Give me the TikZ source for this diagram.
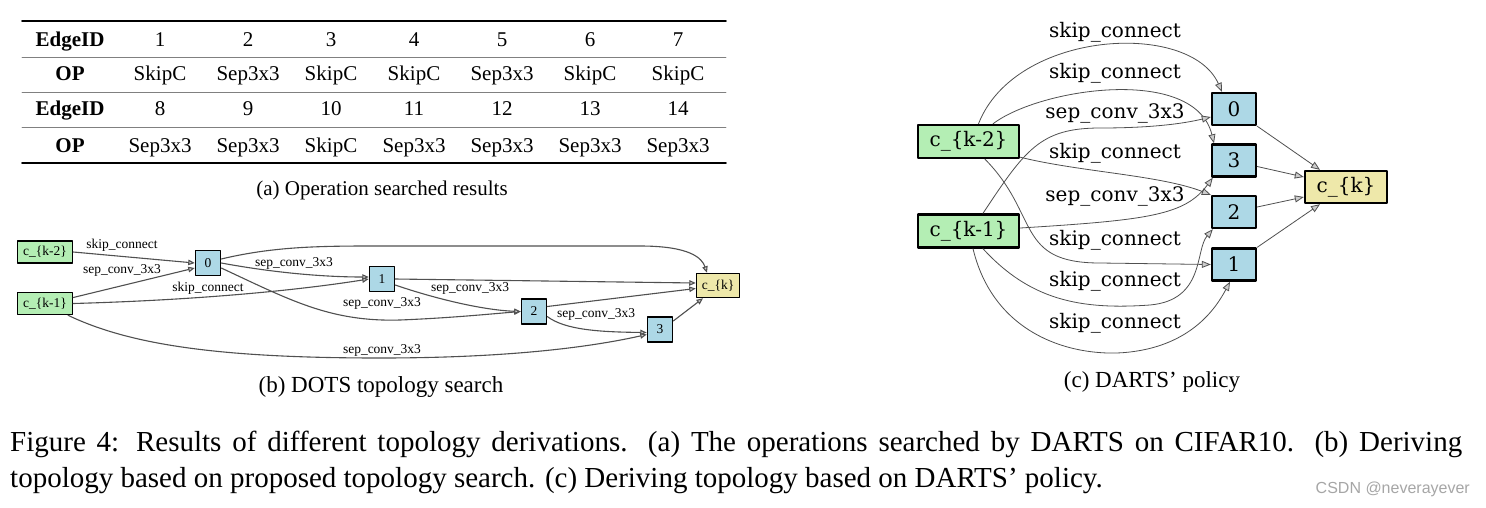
\documentclass[tikz,border=0pt]{standalone}
\usepackage{fontspec}
\setmainfont{Liberation Serif}
\newfontfamily\dartsfont{DejaVu Serif}
\newfontfamily\markfont{Liberation Sans}
\usetikzlibrary{arrows.meta}
\definecolor{inputgreen}{HTML}{B4EEB4}
\definecolor{midblue}{HTML}{ADD8E6}
\definecolor{outyellow}{HTML}{EEE8AA}
\definecolor{wiregray}{HTML}{505050}

\begin{document}
\begin{tikzpicture}[line cap=round,line join=round,x=1pt,y=-1pt,
  bedge/.style={draw=wiregray,line width=1.1pt,-{Triangle[length=6.5pt,width=5.5pt,fill=gray!35]}},
  cedge/.style={draw=wiregray,line width=0.8pt,-{Triangle[length=9pt,width=7pt,fill=gray!40]}},
  bin/.style={draw=black,line width=1.5pt,fill=inputgreen,inner sep=0pt,minimum width=55pt,minimum height=22pt,font=\fontsize{13.5}{15}\selectfont},
  bmid/.style={bin,fill=midblue,minimum width=25pt,minimum height=25pt},
  bout/.style={bin,fill=outyellow,minimum width=43pt,minimum height=24pt},
  blbl/.style={font=\fontsize{13.5}{15}\selectfont,inner sep=0pt},
  cin/.style={draw=black,line width=2.4pt,fill=inputgreen,inner sep=0pt,minimum width=101pt,minimum height=33pt,font=\dartsfont\fontsize{20}{22}\selectfont},
  cmid/.style={cin,fill=midblue,minimum width=44pt,minimum height=32pt},
  cout/.style={cin,fill=outyellow,minimum width=82pt,minimum height=32pt},
  clbl/.style={font=\dartsfont\fontsize{20}{22}\selectfont,inner sep=0pt},
  cell/.style={font=\fontsize{21}{24}\selectfont,anchor=base,inner sep=0pt},
  head/.style={cell,font=\fontsize{21}{24}\selectfont\bfseries},
  capt/.style={font=\fontsize{21}{24}\selectfont,anchor=base,inner sep=0pt}]
\fill[white] (0,0) rectangle (1486,507);
\useasboundingbox (0,0) rectangle (1486,507);
% (a) table
\draw [line width=1.6pt] (22,21)-- (726,21);
\draw [line width=0.7pt,color=gray] (22,57)-- (726,57);
\draw [line width=0.7pt,color=gray] (22,92)-- (726,92);
\draw [line width=0.7pt,color=gray] (22,127)-- (726,127);
\draw [line width=1.6pt] (22,163)-- (726,163);
\node[head] (hid1) at (70,46) {EdgeID};
\node[head] (hop1) at (70,80) {OP};
\node[head] (hid2) at (70,115) {EdgeID};
\node[head] (hop2) at (70,152) {OP};
\foreach \x/\ida/\opa/\idb/\opb [count=\c] in {160/1/SkipC/8/Sep3x3,248/2/Sep3x3/9/Sep3x3,331/3/SkipC/10/SkipC,414/4/SkipC/11/Sep3x3,502/5/Sep3x3/12/Sep3x3,590/6/SkipC/13/Sep3x3,678/7/SkipC/14/Sep3x3}{
  \node[cell] (ida\c) at (\x,46) {\ida};
  \node[cell] (opa\c) at (\x,80) {\opa};
  \node[cell] (idb\c) at (\x,115) {\idb};
  \node[cell] (opb\c) at (\x,152) {\opb};
}
\node[capt] (capa) at (382,195) {(a) Operation searched results};
% (b) DOTS topology
\node[bin] (k2b) at (45,252) {c\_\{k-2\}};
\node[bin] (k1b) at (45,303.5) {c\_\{k-1\}};
\node[bmid] (n0b) at (208,263) {0};
\node[bmid] (n1b) at (382,279) {1};
\node[bmid] (n2b) at (534,311.5) {2};
\node[bmid] (n3b) at (660,329.5) {3};
\node[bout] (ckb) at (718,285.5) {c\_\{k\}};
\draw[bedge] (k2b.east)-- (n0b.west);
\draw[bedge] ([yshift=6pt]k1b.east)-- ([yshift=-5pt]n0b.west);
\draw[bedge] (k1b.east) .. controls (200,300) and (300,290) .. (n1b.west);
\draw[bedge] (n0b.east) .. controls (270,272) and (320,277) .. ([yshift=2pt]n1b.west);
\draw[bedge] ([yshift=-5pt]n0b.east) .. controls (290,300) and (330,322) .. (400,320) .. controls (450,318) and (490,314) .. (n2b.west);
\draw[bedge] ([yshift=4pt]n0b.east) .. controls (280,245) and (330,246) .. (400,246) -- (640,246) .. controls (690,246) and (702,258) .. ([xshift=-11pt]ckb.north);
\draw[bedge] (n1b.east)-- ([yshift=2.5pt]ckb.west);
\draw[bedge] ([yshift=-6pt]n1b.east) .. controls (430,297) and (480,310) .. (n2b.west);
\draw[bedge] ([yshift=5pt]n2b.east)-- ([yshift=-3pt]ckb.west);
\draw[bedge] ([yshift=-5pt]n2b.east) .. controls (565,330) and (600,332) .. ([yshift=-3pt]n3b.west);
\draw[bedge] ([yshift=8.5pt]n3b.east)-- ([xshift=-15pt]ckb.south);
\draw[bedge] ([xshift=23pt]k1b.south) .. controls (130,345) and (220,358) .. (380,358) .. controls (520,358) and (600,345) .. ([yshift=-5pt]n3b.west);
\node[blbl] (lb1) at (122,245) {skip\_connect};
\node[blbl] (lb2) at (122,270) {sep\_conv\_3x3};
\node[blbl] (lb3) at (208,288) {skip\_connect};
\node[blbl] (lb4) at (294,263) {sep\_conv\_3x3};
\node[blbl] (lb5) at (382,303) {sep\_conv\_3x3};
\node[blbl] (lb6) at (470,288) {sep\_conv\_3x3};
\node[blbl] (lb7) at (596,314) {sep\_conv\_3x3};
\node[blbl] (lb8) at (382,350) {sep\_conv\_3x3};
\node[capt,font=\fontsize{23}{26}\selectfont] (capb) at (381,392) {(b) DOTS topology search};
% (c) DARTS policy
\node[cin] (k2c) at (968.5,141.5) {c\_\{k-2\}};
\node[cin] (k1c) at (968.5,231) {c\_\{k-1\}};
\node[cmid] (n0c) at (1234,109) {0};
\node[cmid] (n3c) at (1234,160.5) {3};
\node[cmid] (n2c) at (1234,212) {2};
\node[cmid] (n1c) at (1234,264.5) {1};
\node[cout] (ckc) at (1346,187) {c\_\{k\}};
\draw[cedge] ([xshift=10pt]k2c.north) .. controls (1015,30) and (1190,20) .. ([xshift=-12pt]n0c.north);
\draw[cedge] ([xshift=24.5pt]k2c.north) .. controls (1040,88) and (1195,65) .. ([xshift=-20pt]n3c.north);
\draw[cedge] ([xshift=14.5pt]k1c.north) .. controls (1025,150) and (1040,128) .. (1100,128) .. controls (1160,128) and (1190,122) .. ([yshift=-8pt]n0c.west);
\draw[cedge] ([yshift=2pt]k2c.south east) .. controls (1080,172) and (1160,175) .. (n2c.north west);
\draw[cedge] ([yshift=3pt]k1c.east) .. controls (1150,220) and (1185,215) .. ([xshift=2pt]n3c.south west);
\draw[cedge] ([xshift=16.5pt]k2c.south) .. controls (1040,215) and (1015,263) .. (1100,263) -- (n1c.west);
\draw[cedge] ([xshift=14.5pt]k1c.south) .. controls (1030,300) and (1080,310) .. (1150,305) .. controls (1205,300) and (1195,250) .. ([xshift=2pt]n2c.south west);
\draw[cedge] ([xshift=4.5pt]k1c.south) .. controls (995,340) and (1080,358) .. (1130,352) .. controls (1190,345) and (1215,310) .. ([xshift=-4pt]n1c.south);
\draw[cedge] (n0c.south east)-- ([xshift=-26pt]ckc.north);
\draw[cedge] ([yshift=-6pt]n3c.east)-- ([yshift=10pt]ckc.west);
\draw[cedge] ([yshift=5pt]n2c.east)-- ([yshift=-10pt]ckc.west);
\draw[cedge] (n1c.north east)-- ([xshift=-26pt]ckc.south);
\node[clbl] (lc1) at (1115,32) {skip\_connect};
\node[clbl] (lc2) at (1115,73) {skip\_connect};
\node[clbl] (lc3) at (1115,113) {sep\_conv\_3x3};
\node[clbl] (lc4) at (1115,153) {skip\_connect};
\node[clbl] (lc5) at (1115,196) {sep\_conv\_3x3};
\node[clbl] (lc6) at (1115,240) {skip\_connect};
\node[clbl] (lc7) at (1115,281) {skip\_connect};
\node[clbl] (lc8) at (1115,323) {skip\_connect};
\node[capt,font=\fontsize{23}{26}\selectfont] (capc) at (1152,387) {(c) DARTS' policy};
% figure caption
\node[anchor=base west,inner sep=0pt,font=\fontsize{29}{34}\selectfont] (capl1) at (10,451) {\makebox[1452pt][s]{Figure 4: Results of different topology derivations. (a) The operations searched by DARTS on CIFAR10. (b) Deriving}};
\node[anchor=base west,inner sep=0pt,font=\fontsize{29}{34}\selectfont] (capl2) at (10,487) {topology based on proposed topology search. (c) Deriving topology based on DARTS' policy.};
\node[anchor=base east,inner sep=0pt,font=\markfont\fontsize{16}{18}\selectfont,text=gray!70] (mark) at (1470,493) {CSDN @neverayever};
\end{tikzpicture}
\end{document}
